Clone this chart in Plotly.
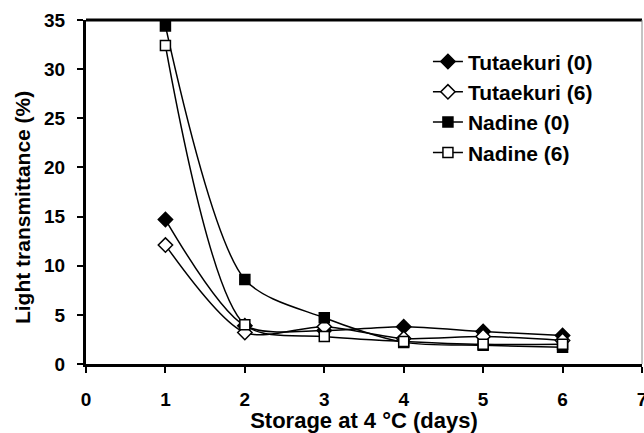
import plotly.graph_objects as go

days = [1, 2, 3, 4, 5, 6]
tutaekuri_0 = [14.7, 3.9, 3.4, 3.8, 3.3, 2.9]
tutaekuri_6 = [12.1, 3.2, 3.8, 2.6, 2.8, 2.4]
nadine_0 = [34.4, 8.6, 4.7, 2.2, 1.9, 1.7]
nadine_6 = [32.4, 4.0, 2.8, 2.3, 2.0, 2.0]

x_ticks = [0, 1, 2, 3, 4, 5, 6, 7]
y_ticks = [0, 5, 10, 15, 20, 25, 30, 35]

series = [
    ("Tutaekuri (0)", tutaekuri_0, "diamond", "black", 11),
    ("Tutaekuri (6)", tutaekuri_6, "diamond", "white", 11),
    ("Nadine (0)", nadine_0, "square", "black", 10),
    ("Nadine (6)", nadine_6, "square", "white", 10),
]

fig = go.Figure()
for i, (name, vals, sym, fill, sz) in enumerate(series):
    fig.add_trace(go.Scatter(
        x=days, y=vals, name=f"<b>{name}</b>", mode="lines+markers",
        line=dict(color="black", width=1.5, shape="spline", smoothing=0.8),
        marker=dict(symbol=sym, size=sz, color=fill, line=dict(color="black", width=1.5)),
        legendgroup=f"g{i}", cliponaxis=False,
    ))

font_family = "Liberation Sans"
fig.update_layout(
    width=644, height=433,
    margin=dict(l=86, r=2, t=20, b=69),
    plot_bgcolor="white", paper_bgcolor="white",
    font=dict(family=font_family, color="black", size=19),
    showlegend=True,
    legend=dict(x=0.615, y=0.938, xanchor="left", yanchor="top",
                font=dict(size=21, family=font_family, color="black"),
                traceorder="grouped", tracegroupgap=0, bgcolor="rgba(0,0,0,0)"),
    xaxis=dict(range=[0, 7.0001], tickvals=x_ticks, ticktext=[f"<b>{v}</b>" for v in x_ticks],
               showline=True, linecolor="black", linewidth=3,
               ticks="outside", ticklen=6, tickwidth=2, tickcolor="black",
               showgrid=False, zeroline=False, ticklabeloverflow="allow",
               ticklabelstandoff=10, automargin=False,
               tickfont=dict(size=19, weight="bold"),
               title=dict(text="<b>Storage at 4 \u00b0C (days)</b>", font=dict(size=22), standoff=7)),
    yaxis=dict(range=[0, 35], tickvals=y_ticks, ticktext=[f"<b>{v}</b>" for v in y_ticks],
               showline=True, linecolor="black", linewidth=3,
               ticks="outside", ticklen=6, tickwidth=2, tickcolor="black",
               showgrid=False, zeroline=False, automargin=False,
               ticklabelstandoff=8,
               tickfont=dict(size=19, weight="bold")),
)
fig.add_annotation(text="<b>Light transmittance (%)</b>", textangle=-90,
                   xref="paper", yref="paper", x=-0.114, y=0.455,
                   xanchor="center", yanchor="middle", showarrow=False,
                   font=dict(size=21, family=font_family, color="black"))
fig.add_shape(type="line", xref="paper", yref="paper", x0=0, x1=1, y0=1, y1=1,
              line=dict(color="black", width=3))
fig.add_shape(type="line", xref="paper", yref="paper", x0=1, x1=1, y0=0, y1=1,
              line=dict(color="#888888", width=1))

fig.write_html("out.html")
